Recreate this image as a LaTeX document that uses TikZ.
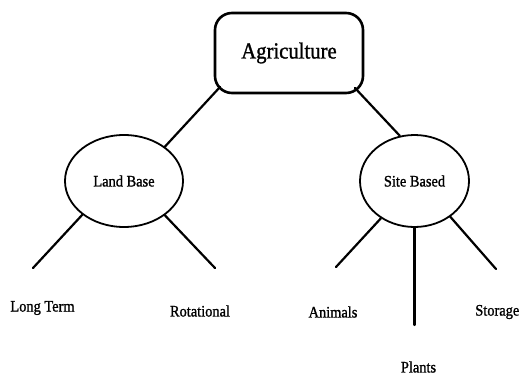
\documentclass[tikz,border=0pt]{standalone}
\usepackage{fontspec}
\setmainfont[FakeStretch=0.9,FakeBold=1.2]{Liberation Serif}
\usetikzlibrary{shapes.geometric}
\begin{document}
\begin{tikzpicture}[x=1pt,y=-1pt,
  rootbox/.style={draw, line width=2.6pt, rounded corners=17pt,
    minimum width=148pt, minimum height=80pt, inner sep=0pt,
    font=\fontsize{23}{26}\selectfont},
  branch/.style={draw, ellipse, line width=1.8pt, inner sep=0pt,
    minimum height=92pt, font=\fontsize{16}{19}\selectfont},
  leaf/.style={inner sep=0pt, font=\fontsize{16}{19}\selectfont},
  link/.style={line width=2.2pt, line cap=round}]
\useasboundingbox (0,0) rectangle (520,375);

% root and the two branches
\node[rootbox] (agri) at (289,53) {Agriculture};
\node[branch, minimum width=118pt] (land) at (124,181) {Land Base};
\node[branch, minimum width=109pt] (site) at (414.5,181) {Site Based};

% points where the links leave the rounded box corners
\coordinate (agriL) at (220,87);
\coordinate (agriR) at (355,88);

\draw[link] (agriL) -- (land.40);
\draw[link] (agriR) -- (site.108);

% free ends of the sub-category links
\coordinate (endLT) at (33,268);
\coordinate (endRo) at (215,268);
\coordinate (endAn) at (336,267);
\coordinate (endPl) at (414.5,325);
\coordinate (endSt) at (496,269);

\draw[link] (land.219) -- (endLT);
\draw[link] (land.320) -- (endRo);
\draw[link] (site.228) -- (endAn);
\draw[link] (site.south) -- (endPl);
\draw[link] (site.315) -- (endSt);

% sub-category labels
\node[leaf] (lt) at (42.5,308) {Long Term};
\node[leaf] (ro) at (200,311) {Rotational};
\node[leaf] (an) at (333,312) {Animals};
\node[leaf, anchor=east] (st) at (519.5,312) {Storage};
\node[leaf] (pl) at (418.5,367) {Plants};
\end{tikzpicture}
\end{document}
